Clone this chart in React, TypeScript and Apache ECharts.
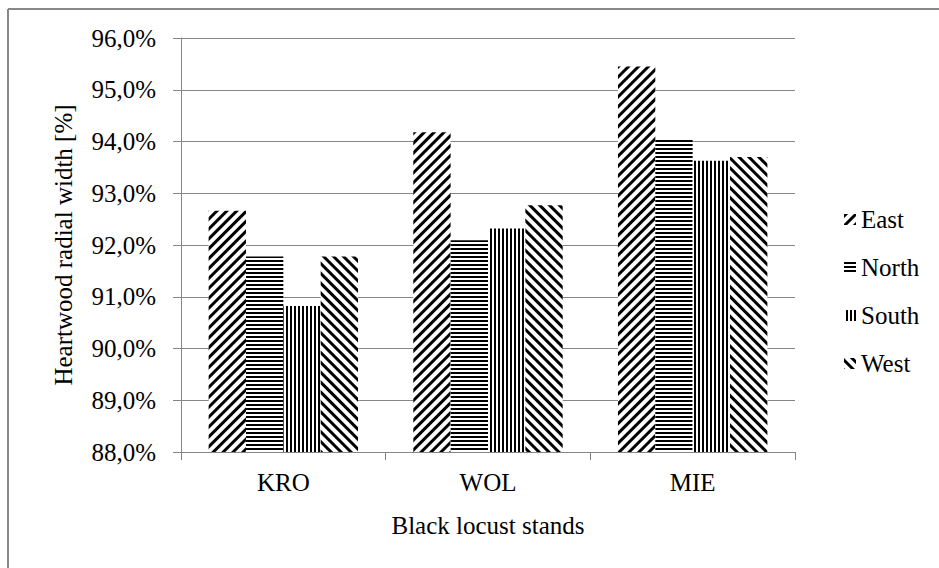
import React, { useEffect, useRef } from "react";
import * as echarts from "echarts";

const categories = ["KRO", "WOL", "MIE"];
const seriesNames = ["East", "North", "South", "West"];
const eastValues = [92.66, 94.18, 95.45];
const northValues = [91.78, 92.09, 94.03];
const southValues = [90.82, 92.32, 93.63];
const westValues = [91.78, 92.77, 93.7];
const yTicks = { min: 88, max: 96, interval: 1 };

const FONT = "Liberation Serif";
const FS = 25;

const decals: any[] = [
  { symbol: "rect", symbolSize: 1, dashArrayX: [1, 0], dashArrayY: [2.5, 3.2], rotation: -Math.PI / 4, color: "#000", backgroundColor: "#fff" },
  { symbol: "rect", symbolSize: 1, dashArrayX: [1, 0], dashArrayY: [2, 2], rotation: 0, color: "#000", backgroundColor: "#fff" },
  { symbol: "rect", symbolSize: 1, dashArrayX: [1, 0], dashArrayY: [2, 2], rotation: Math.PI / 2, color: "#000", backgroundColor: "#fff" },
  { symbol: "rect", symbolSize: 1, dashArrayX: [1, 0], dashArrayY: [2.5, 3.2], rotation: Math.PI / 4, color: "#000", backgroundColor: "#fff" },
];

export default function App() {
  const ref = useRef<HTMLDivElement>(null);
  useEffect(() => {
    if (!ref.current) return;
    const chart = echarts.init(ref.current, null, { renderer: "svg" });
    const values = [eastValues, northValues, southValues, westValues];
    chart.setOption({
      animation: false,
      backgroundColor: "#fff",
      textStyle: { fontFamily: FONT },
      grid: { left: 181, right: 144, top: 38, bottom: 116, containLabel: false },
      legend: {
        orient: "vertical",
        left: 839,
        top: 202,
        itemWidth: 12,
        itemHeight: 11,
        itemGap: 23,
        icon: "rect",
        textStyle: { fontFamily: FONT, fontSize: FS, color: "#000" },
        data: seriesNames,
      },
      xAxis: {
        type: "category",
        data: categories,
        name: "Black locust stands",
        nameLocation: "middle",
        nameGap: 61,
        nameTextStyle: { fontFamily: FONT, fontSize: FS, color: "#000" },
        axisLine: { lineStyle: { color: "#868686", width: 1 } },
        axisTick: { show: true, length: 8, inside: false, lineStyle: { color: "#868686" } },
        axisLabel: { fontFamily: FONT, fontSize: FS, color: "#000", margin: 18 },
      },
      yAxis: {
        type: "value",
        min: yTicks.min,
        max: yTicks.max,
        interval: yTicks.interval,
        name: "Heartwood radial width [%]",
        nameLocation: "middle",
        nameGap: 105,
        nameTextStyle: { fontFamily: FONT, fontSize: FS, color: "#000" },
        axisLine: { show: true, lineStyle: { color: "#868686", width: 1 } },
        axisTick: { show: true, length: 8, lineStyle: { color: "#868686" } },
        splitLine: { show: true, lineStyle: { color: "#868686", width: 1 } },
        axisLabel: {
          fontFamily: FONT,
          fontSize: FS,
          color: "#000",
          margin: 25,
          formatter: (v: number) => v.toFixed(1).replace(".", ",") + "%",
        },
      },
      graphic: [
        { type: "line", shape: { x1: 8, y1: 9, x2: 939, y2: 9 }, style: { stroke: "#888", lineWidth: 2 } },
        { type: "line", shape: { x1: 8, y1: 9, x2: 8, y2: 568 }, style: { stroke: "#888", lineWidth: 2 } },
      ],
      series: seriesNames.map((name, i) => ({
        name,
        type: "bar",
        data: values[i],
        barGap: "0%",
        barCategoryGap: "27%",
        itemStyle: { color: "#fff", decal: decals[i] },
      })),
    });
    return () => chart.dispose();
  }, []);
  return <div ref={ref} style={{ position: "absolute", left: 0, top: 0, width: 939, height: 568 }} />;
}
